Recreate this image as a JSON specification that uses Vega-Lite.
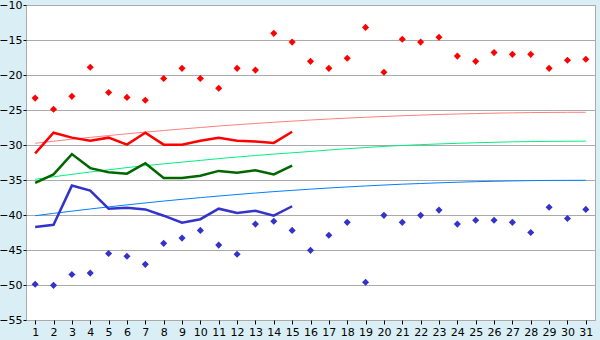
{
  "$schema": "https://vega.github.io/schema/vega-lite/v6.json",
  "width": 569,
  "height": 315,
  "autosize": {"type": "none"},
  "padding": {"left": 26, "top": 5, "right": 5, "bottom": 20},
  "background": "#d9eff5",
  "config": {
    "view": {"fill": "#ffffff", "stroke": "#aaaaaa", "strokeWidth": 1},
    "axis": {
      "labelFont": "DejaVu Sans",
      "labelFontSize": 11,
      "labelColor": "#000000",
      "tickColor": "#000000",
      "domain": false,
      "title": null
    }
  },
  "data": {
    "values": [
      {"day": 1, "hi": -23.3, "lo": -49.9, "ra": -31.2, "ga": -35.4, "ba": -41.7, "rt": -29.75, "gt": -34.9, "bt": -40.1},
      {"day": 2, "hi": -24.9, "lo": -50.05, "ra": -28.25, "ga": -34.2, "ba": -41.4, "rt": -29.46, "gt": -34.54, "bt": -39.77},
      {"day": 3, "hi": -23.05, "lo": -48.5, "ra": -28.95, "ga": -31.3, "ba": -35.8, "rt": -29.18, "gt": -34.19, "bt": -39.45},
      {"day": 4, "hi": -18.9, "lo": -48.3, "ra": -29.4, "ga": -33.3, "ba": -36.5, "rt": -28.91, "gt": -33.86, "bt": -39.14},
      {"day": 5, "hi": -22.5, "lo": -45.5, "ra": -28.95, "ga": -33.9, "ba": -39.1, "rt": -28.65, "gt": -33.54, "bt": -38.84},
      {"day": 6, "hi": -23.2, "lo": -45.9, "ra": -29.95, "ga": -34.1, "ba": -38.95, "rt": -28.4, "gt": -33.23, "bt": -38.55},
      {"day": 7, "hi": -23.6, "lo": -47.05, "ra": -28.25, "ga": -32.6, "ba": -39.2, "rt": -28.16, "gt": -32.94, "bt": -38.28},
      {"day": 8, "hi": -20.5, "lo": -44.05, "ra": -29.95, "ga": -34.7, "ba": -40.1, "rt": -27.93, "gt": -32.7, "bt": -38.01},
      {"day": 9, "hi": -19.05, "lo": -43.3, "ra": -29.95, "ga": -34.7, "ba": -41.1, "rt": -27.71, "gt": -32.45, "bt": -37.76},
      {"day": 10, "hi": -20.5, "lo": -42.2, "ra": -29.4, "ga": -34.4, "ba": -40.6, "rt": -27.5, "gt": -32.2, "bt": -37.52},
      {"day": 11, "hi": -21.9, "lo": -44.3, "ra": -28.95, "ga": -33.7, "ba": -39.1, "rt": -27.29, "gt": -31.95, "bt": -37.29},
      {"day": 12, "hi": -19.05, "lo": -45.6, "ra": -29.4, "ga": -33.95, "ba": -39.7, "rt": -27.1, "gt": -31.72, "bt": -37.07},
      {"day": 13, "hi": -19.3, "lo": -41.3, "ra": -29.5, "ga": -33.6, "ba": -39.4, "rt": -26.92, "gt": -31.5, "bt": -36.86},
      {"day": 14, "hi": -14.05, "lo": -40.9, "ra": -29.7, "ga": -34.2, "ba": -40.1, "rt": -26.75, "gt": -31.3, "bt": -36.66},
      {"day": 15, "hi": -15.3, "lo": -42.2, "ra": -28.1, "ga": -32.95, "ba": -38.75, "rt": -26.59, "gt": -31.12, "bt": -36.48},
      {"day": 16, "hi": -18.05, "lo": -45.05, "rt": -26.43, "gt": -30.92, "bt": -36.31},
      {"day": 17, "hi": -19.05, "lo": -42.9, "rt": -26.29, "gt": -30.72, "bt": -36.14},
      {"day": 18, "hi": -17.6, "lo": -41.05, "rt": -26.16, "gt": -30.53, "bt": -35.99},
      {"day": 19, "hi": -13.2, "lo": -49.6, "rt": -26.04, "gt": -30.36, "bt": -35.85},
      {"day": 20, "hi": -19.6, "lo": -40.05, "rt": -25.92, "gt": -30.2, "bt": -35.72},
      {"day": 21, "hi": -14.9, "lo": -41.05, "rt": -25.82, "gt": -30.07, "bt": -35.6},
      {"day": 22, "hi": -15.3, "lo": -40.05, "rt": -25.73, "gt": -29.95, "bt": -35.5},
      {"day": 23, "hi": -14.6, "lo": -39.3, "rt": -25.64, "gt": -29.85, "bt": -35.4},
      {"day": 24, "hi": -17.3, "lo": -41.3, "rt": -25.57, "gt": -29.76, "bt": -35.32},
      {"day": 25, "hi": -18.05, "lo": -40.75, "rt": -25.51, "gt": -29.68, "bt": -35.24},
      {"day": 26, "hi": -16.8, "lo": -40.75, "rt": -25.45, "gt": -29.61, "bt": -35.18},
      {"day": 27, "hi": -17.05, "lo": -41.05, "rt": -25.41, "gt": -29.55, "bt": -35.13},
      {"day": 28, "hi": -17.05, "lo": -42.5, "rt": -25.37, "gt": -29.51, "bt": -35.09},
      {"day": 29, "hi": -19.05, "lo": -38.9, "rt": -25.35, "gt": -29.48, "bt": -35.06},
      {"day": 30, "hi": -17.9, "lo": -40.5, "rt": -25.33, "gt": -29.46, "bt": -35.05},
      {"day": 31, "hi": -17.75, "lo": -39.2, "rt": -25.33, "gt": -29.45, "bt": -35.04}
    ]
  },
  "transform": [
    {"fold": ["hi", "lo", "ra", "ga", "ba", "rt", "gt", "bt"], "as": ["key", "value"]},
    {"filter": "isValid(datum.value)"}
  ],
  "encoding": {
    "x": {
      "field": "day",
      "type": "quantitative",
      "scale": {"domain": [0.5, 31.5], "nice": false, "zero": false},
      "axis": {
        "values": [1,2,3,4,5,6,7,8,9,10,11,12,13,14,15,16,17,18,19,20,21,22,23,24,25,26,27,28,29,30,31],
        "grid": false,
        "tickSize": 4,
        "labelPadding": 2,
        "labelFlush": false,
        "labelOverlap": false
      }
    },
    "y": {
      "field": "value",
      "type": "quantitative",
      "scale": {"domain": [-55, -10], "nice": false, "zero": false},
      "axis": {
        "values": [-55,-50,-45,-40,-35,-30,-25,-20,-15,-10],
        "grid": true,
        "gridColor": "#aaaaaa",
        "gridOpacity": 1,
        "tickSize": 3,
        "labelPadding": 1,
        "labelFlush": false,
        "labelOverlap": false
      }
    }
  },
  "layer": [
    {
      "transform": [{"filter": "datum.key === 'rt'"}],
      "mark": {"type": "line", "color": "#ff8080", "strokeWidth": 1}
    },
    {
      "transform": [{"filter": "datum.key === 'gt'"}],
      "mark": {"type": "line", "color": "#00f080", "strokeWidth": 1}
    },
    {
      "transform": [{"filter": "datum.key === 'bt'"}],
      "mark": {"type": "line", "color": "#0080ff", "strokeWidth": 1}
    },
    {
      "transform": [{"filter": "datum.key === 'ra'"}],
      "mark": {"type": "line", "color": "#ff0000", "strokeWidth": 2.5}
    },
    {
      "transform": [{"filter": "datum.key === 'ga'"}],
      "mark": {"type": "line", "color": "#006600", "strokeWidth": 2.5}
    },
    {
      "transform": [{"filter": "datum.key === 'ba'"}],
      "mark": {"type": "line", "color": "#3333cc", "strokeWidth": 2.5}
    },
    {
      "transform": [{"filter": "datum.key === 'hi'"}],
      "mark": {"type": "point", "shape": "diamond", "filled": true, "color": "#ff0000", "size": 50, "opacity": 1}
    },
    {
      "transform": [{"filter": "datum.key === 'lo'"}],
      "mark": {"type": "point", "shape": "diamond", "filled": true, "color": "#3333cc", "size": 50, "opacity": 1}
    }
  ]
}
